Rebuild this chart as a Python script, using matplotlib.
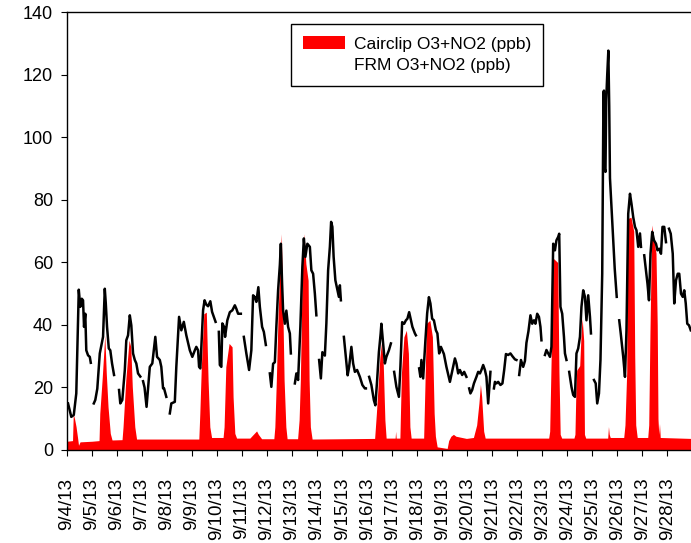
import numpy as np
import matplotlib
matplotlib.use("Agg")
import matplotlib.pyplot as plt
from matplotlib.patches import Patch
from matplotlib.lines import Line2D

plt.rcParams['font.family'] = ['Liberation Sans', 'DejaVu Sans']

# x positions are days since 9/4/13 00:00
date_labels = ['9/%d/13' % d for d in range(4, 29)]

# FRM hourly O3+NO2 (ppb); nan = gap in record
frm_days = [
    0.04, 0.17, 0.27, 0.37, 0.47, 0.53, 0.59, 0.64, 0.68, 0.73, 0.77, 0.84, 0.91, 0.95, np.nan,
    1.07, 1.13, 1.21, 1.31, 1.40, 1.44, 1.51, 1.55, 1.60, 1.67, 1.73, 1.80, 1.88, np.nan,
    2.08, 2.13, 2.21, 2.31, 2.37, 2.44, 2.51, 2.57, 2.64, 2.71, 2.77, 2.84, 2.93, np.nan,
    3.04, 3.10, 3.18, 3.31, 3.41, 3.53, 3.60, 3.71, 3.77, 3.84, 3.88, 3.97, np.nan,
    4.11, 4.17, 4.31, 4.37, 4.48, 4.57, 4.67, 4.77, 4.91, 5.01, 5.11, 5.17, 5.24, 5.28, 5.33,
    5.44, 5.50, 5.57, 5.64, 5.73, 5.80, 5.87, 5.94, np.nan,
    6.07, 6.11, 6.17, 6.21, 6.28, 6.32, 6.41, 6.51, 6.61, 6.71, 6.77, 6.84, 6.95, np.nan,
    7.07, 7.17, 7.28, 7.37, 7.44, 7.51, 7.57, 7.65, 7.71, 7.80, 7.87, 7.95, np.nan,
    8.11, 8.17, 8.24, 8.31, 8.37, 8.44, 8.51, 8.55, 8.60, 8.64, 8.71, 8.77, 8.84, 8.91, 8.95, np.nan,
    9.11, 9.17, 9.24, 9.33, 9.41, 9.47, 9.53, 9.61, 9.71, 9.77, 9.84, 9.91, 9.97, np.nan,
    10.08, 10.15, 10.21, 10.31, 10.37, 10.44, 10.51, 10.56, 10.61, 10.66, 10.73, 10.80, 10.87, 10.91, 10.95, np.nan,
    11.07, 11.15, 11.22, 11.28, 11.37, 11.44, 11.51, 11.60, 11.71, 11.81, 11.91, 11.95, np.nan,
    12.08, 12.17, 12.27, 12.33, 12.40, 12.47, 12.54, 12.57, 12.64, 12.71, 12.77, 12.87, 12.95, np.nan,
    13.08, 13.17, 13.27, 13.33, 13.40, 13.48, 13.55, 13.61, 13.68, 13.75, 13.81, 13.91, 13.95, np.nan,
    14.08, 14.13, 14.17, 14.24, 14.33, 14.40, 14.47, 14.53, 14.60, 14.67, 14.75, 14.81, 14.88, 14.95,
    15.07, 15.17, 15.31, 15.41, 15.51, 15.57, 15.64, 15.71, 15.80, 15.88, 15.97, np.nan,
    16.08, 16.13, 16.20, 16.27, 16.37, 16.44, 16.51, 16.57, 16.64, 16.71, 16.77, 16.84, 16.88, 16.93, np.nan,
    17.07, 17.11, 17.17, 17.24, 17.33, 17.41, 17.48, 17.55, 17.64, 17.73, 17.81, 17.91, 17.97, np.nan,
    18.08, 18.15, 18.24, 18.31, 18.37, 18.45, 18.53, 18.60, 18.67, 18.73, 18.80, 18.87, 18.93, 18.97, np.nan,
    19.11, 19.17, 19.24, 19.31, 19.37, 19.44, 19.51, 19.57, 19.64, 19.68, 19.73, 19.80, 19.87, 19.91, 19.97, np.nan,
    20.08, 20.17, 20.24, 20.31, 20.37, 20.44, 20.51, 20.57, 20.64, 20.71, 20.77, 20.84, 20.91, 20.95, np.nan,
    21.07, 21.14, 21.20, 21.27, 21.33, 21.40, 21.45, 21.47, 21.50, 21.53, 21.56, 21.60, 21.645, 21.68,
    21.71, 21.82, 21.90, 21.98, np.nan,
    22.08, 22.14, 22.24, 22.31, 22.37, 22.44, 22.51, 22.57, 22.64, 22.71, 22.77, 22.84, 22.91, 22.95, np.nan,
    23.08, 23.15, 23.21, 23.27, 23.33, 23.40, 23.47, 23.55, 23.61, 23.68, 23.75, 23.81, 23.88, 23.95, np.nan,
    24.07, 24.14, 24.22, 24.28, 24.35, 24.42, 24.48, 24.55, 24.62, 24.68, 24.74, 24.80, 24.87, 24.94,
]
frm_vals = [
    14.9, 10.6, 11.2, 18.1, 51.3, 45.8, 48.4, 47.9, 39.4, 43.6, 31.9, 30.3, 29.8, 27.9, np.nan,
    14.9, 16.0, 19.6, 30.9, 34.6, 36.2, 51.6, 46.9, 39.4, 32.5, 31.9, 27.7, 24.0, np.nan,
    19.2, 14.9, 16.0, 25.5, 35.1, 36.7, 43.1, 39.9, 30.9, 28.8, 27.7, 24.5, 23.5, np.nan,
    22.0, 20.0, 13.8, 26.6, 27.7, 36.2, 29.8, 28.8, 26.6, 19.7, 19.7, 17.0, np.nan,
    11.7, 14.9, 15.4, 26.6, 42.6, 38.3, 41.0, 36.7, 31.9, 29.8, 31.9, 33.0, 31.9, 26.6, 26.1,
    44.7, 47.9, 46.5, 46.0, 47.6, 44.2, 42.6, 41.0, np.nan,
    37.8, 27.2, 26.6, 40.5, 39.4, 36.2, 41.5, 44.1, 44.7, 46.3, 45.2, 43.6, 43.6, np.nan,
    36.2, 30.9, 25.6, 31.9, 49.5, 48.9, 47.4, 52.1, 45.8, 39.4, 37.8, 33.6, np.nan,
    24.5, 20.2, 27.6, 28.1, 39.4, 51.1, 59.2, 66.0, 53.2, 44.6, 40.4, 44.6, 39.4, 37.3, 30.9, np.nan,
    21.3, 24.5, 22.4, 39.4, 58.6, 67.7, 61.8, 66.0, 65.0, 57.5, 56.4, 50.0, 43.1, np.nan,
    28.8, 22.9, 31.3, 30.2, 40.5, 57.5, 65.0, 73.0, 71.4, 61.8, 54.3, 51.7, 49.0, 52.7, 47.9, np.nan,
    36.2, 29.8, 23.9, 26.6, 33.0, 27.7, 25.0, 25.6, 23.4, 20.8, 19.7, 19.7, np.nan,
    23.4, 20.8, 15.9, 14.3, 22.4, 31.3, 37.2, 40.4, 34.1, 27.7, 29.8, 31.9, 34.1, np.nan,
    25.0, 20.2, 17.0, 26.6, 40.9, 40.4, 41.5, 42.0, 44.1, 41.5, 39.4, 37.3, 36.7, np.nan,
    26.1, 23.4, 28.8, 22.9, 35.1, 43.7, 48.9, 46.9, 42.0, 41.5, 38.3, 37.3, 30.9, 33.0,
    30.7, 26.6, 21.8, 25.6, 29.3, 27.7, 24.5, 25.6, 24.0, 25.0, 23.4, np.nan,
    19.7, 18.1, 19.2, 21.3, 23.4, 25.0, 24.5, 25.6, 27.2, 25.6, 23.4, 14.9, 19.2, 25.0, np.nan,
    19.7, 21.8, 21.3, 21.8, 20.8, 21.3, 25.6, 30.7, 30.4, 30.9, 30.0, 29.0, 28.8, np.nan,
    24.0, 28.8, 26.6, 28.5, 34.3, 38.0, 43.1, 40.4, 41.5, 40.4, 43.6, 42.6, 39.4, 35.1, np.nan,
    30.4, 32.0, 30.9, 29.8, 33.0, 66.0, 63.9, 67.1, 68.2, 69.2, 45.8, 43.6, 36.2, 30.9, 28.8, np.nan,
    25.0, 20.2, 17.6, 17.0, 30.9, 32.5, 36.2, 45.8, 51.1, 49.0, 41.5, 49.5, 42.6, 37.3, np.nan,
    22.4, 21.3, 14.9, 18.1, 28.8, 56.4, 114.5, 115.0, 90.0, 89.0, 112.0, 120.0, 127.8, 110.0,
    87.0, 70.3, 58.0, 49.0, np.nan,
    41.5, 37.3, 29.8, 23.4, 38.3, 75.6, 82.0, 78.8, 74.5, 71.4, 70.3, 65.0, 69.3, 65.0, np.nan,
    62.3, 57.5, 53.2, 47.9, 62.8, 69.8, 67.1, 66.0, 63.9, 64.4, 62.8, 71.4, 71.4, 66.5, np.nan,
    70.8, 69.2, 62.8, 46.9, 54.3, 56.4, 56.4, 50.0, 49.0, 51.1, 46.9, 40.4, 39.9, 38.3,
]

# Cairclip O3+NO2 (ppb)
cairclip_days = [
    0.00, 0.22, 0.25, 0.30, 0.36, 0.42, 0.46, 0.52, 1.00,
    1.28, 1.31, 1.41, 1.51, 1.57, 1.64, 1.73, 1.80,
    2.20, 2.24, 2.35, 2.48, 2.55, 2.61, 2.71, 2.78,
    5.27, 5.31, 5.37, 5.47, 5.57, 5.64, 5.71, 5.78,
    6.24, 6.28, 6.35, 6.48, 6.60, 6.64, 6.71, 6.78,
    7.31, 7.45, 7.58, 7.65, 7.78,
    8.27, 8.31, 8.37, 8.44, 8.57, 8.64, 8.68, 8.75, 8.80,
    9.22, 9.28, 9.33, 9.41, 9.48, 9.55, 9.64, 9.68, 9.73, 9.80,
    12.30, 12.37, 12.51, 12.57, 12.64, 12.71, 12.76,
    13.12, 13.14, 13.16,
    13.31, 13.37, 13.47, 13.57, 13.65, 13.71, 13.76,
    14.26, 14.31, 14.37, 14.51, 14.61, 14.68, 14.73, 14.80,
    15.20, 15.26, 15.35, 15.45, 15.55, 15.97,
    16.25, 16.38, 16.47, 16.53, 16.58, 16.66, 16.72,
    19.26, 19.30, 19.36, 19.42, 19.62, 19.67, 19.72, 19.78,
    20.27, 20.31, 20.35, 20.38, 20.50, 20.56, 20.60, 20.66, 20.69, 20.74,
    21.62, 21.65, 21.68, 21.72,
    22.26, 22.31, 22.38, 22.41, 22.55, 22.66, 22.70, 22.74, 22.80,
    23.22, 23.26, 23.31, 23.38, 23.45, 23.55, 23.60, 23.63, 23.66, 23.69, 23.72,
    24.95,
]
cairclip_vals = [
    2.8, 3.0, 11.5, 10.0, 7.5, 4.0, 1.5, 2.6, 2.8,
    3.0, 11.7, 23.4, 36.7, 24.5, 13.8, 5.3, 3.2,
    3.3, 7.4, 22.4, 35.1, 33.0, 20.2, 7.4, 3.5,
    3.5, 11.7, 26.6, 43.6, 44.1, 22.4, 7.4, 4.0,
    4.0, 7.4, 26.6, 34.1, 33.0, 17.0, 5.3, 3.8,
    3.8, 5.0, 6.1, 5.0, 3.6,
    3.6, 7.4, 22.4, 43.6, 69.2, 40.5, 22.4, 7.4, 3.6,
    3.6, 9.6, 22.4, 59.6, 69.2, 59.6, 54.3, 22.4, 7.4, 3.5,
    3.7, 11.7, 29.8, 34.1, 28.8, 9.6, 3.8,
    3.8, 6.0, 3.8,
    3.8, 24.5, 36.2, 38.3, 30.9, 7.4, 3.8,
    3.8, 20.2, 40.5, 41.5, 36.2, 11.7, 4.4, 1.0,
    0.5, 3.0, 4.4, 5.0, 4.4, 3.7,
    4.0, 8.0, 15.0, 21.0, 17.0, 6.0, 3.8,
    3.8, 6.0, 30.0, 61.5, 60.0, 25.0, 5.0, 3.8,
    3.8, 5.0, 20.0, 25.5, 27.0, 38.0, 42.0, 35.0, 5.0, 3.8,
    3.8, 7.5, 5.0, 4.0,
    4.0, 8.0, 25.0, 74.0, 74.5, 70.0, 30.0, 8.0, 4.0,
    4.0, 8.0, 38.0, 72.0, 68.0, 63.0, 40.0, 10.0, 5.0, 8.5, 4.0,
    3.7,
]

fig = plt.figure(figsize=(6.91, 5.43), dpi=100)
ax = fig.add_axes([0.097, 0.1713, 0.903, 0.8057])

ax.fill_between(cairclip_days, cairclip_vals, 0, color='#ff0000', lw=0)
ax.plot(frm_days, frm_vals, color='black', lw=1.8)

ax.set_xlim(0, 24.95)
ax.set_ylim(0, 140)
ax.set_yticks(range(0, 141, 20))
ax.set_xticks(range(len(date_labels)))
ax.set_xticklabels(date_labels, rotation=90, fontsize=13.5)
ax.tick_params(axis='y', labelsize=13, direction='out', length=4, pad=6)
ax.tick_params(axis='x', direction='out', length=4, pad=16)
ax.spines['right'].set_visible(False)
for s in ['left', 'bottom', 'top']:
    ax.spines[s].set_linewidth(1.0)

handles = [Patch(facecolor='#ff0000', edgecolor='none'),
           Line2D([], [], color='none')]
leg = ax.legend(handles, ['Cairclip O3+NO2 (ppb)', 'FRM O3+NO2 (ppb)'],
                loc='upper left', bbox_to_anchor=(0.359, 0.974), borderaxespad=0,
                fontsize=12.5, frameon=True, fancybox=False, framealpha=1,
                handlelength=2.4, handleheight=0.8, handletextpad=0.5,
                borderpad=0.7, labelspacing=0.35)
leg.get_frame().set_edgecolor('black')
leg.get_frame().set_linewidth(1.0)

fig.savefig('out.png', dpi=100)
